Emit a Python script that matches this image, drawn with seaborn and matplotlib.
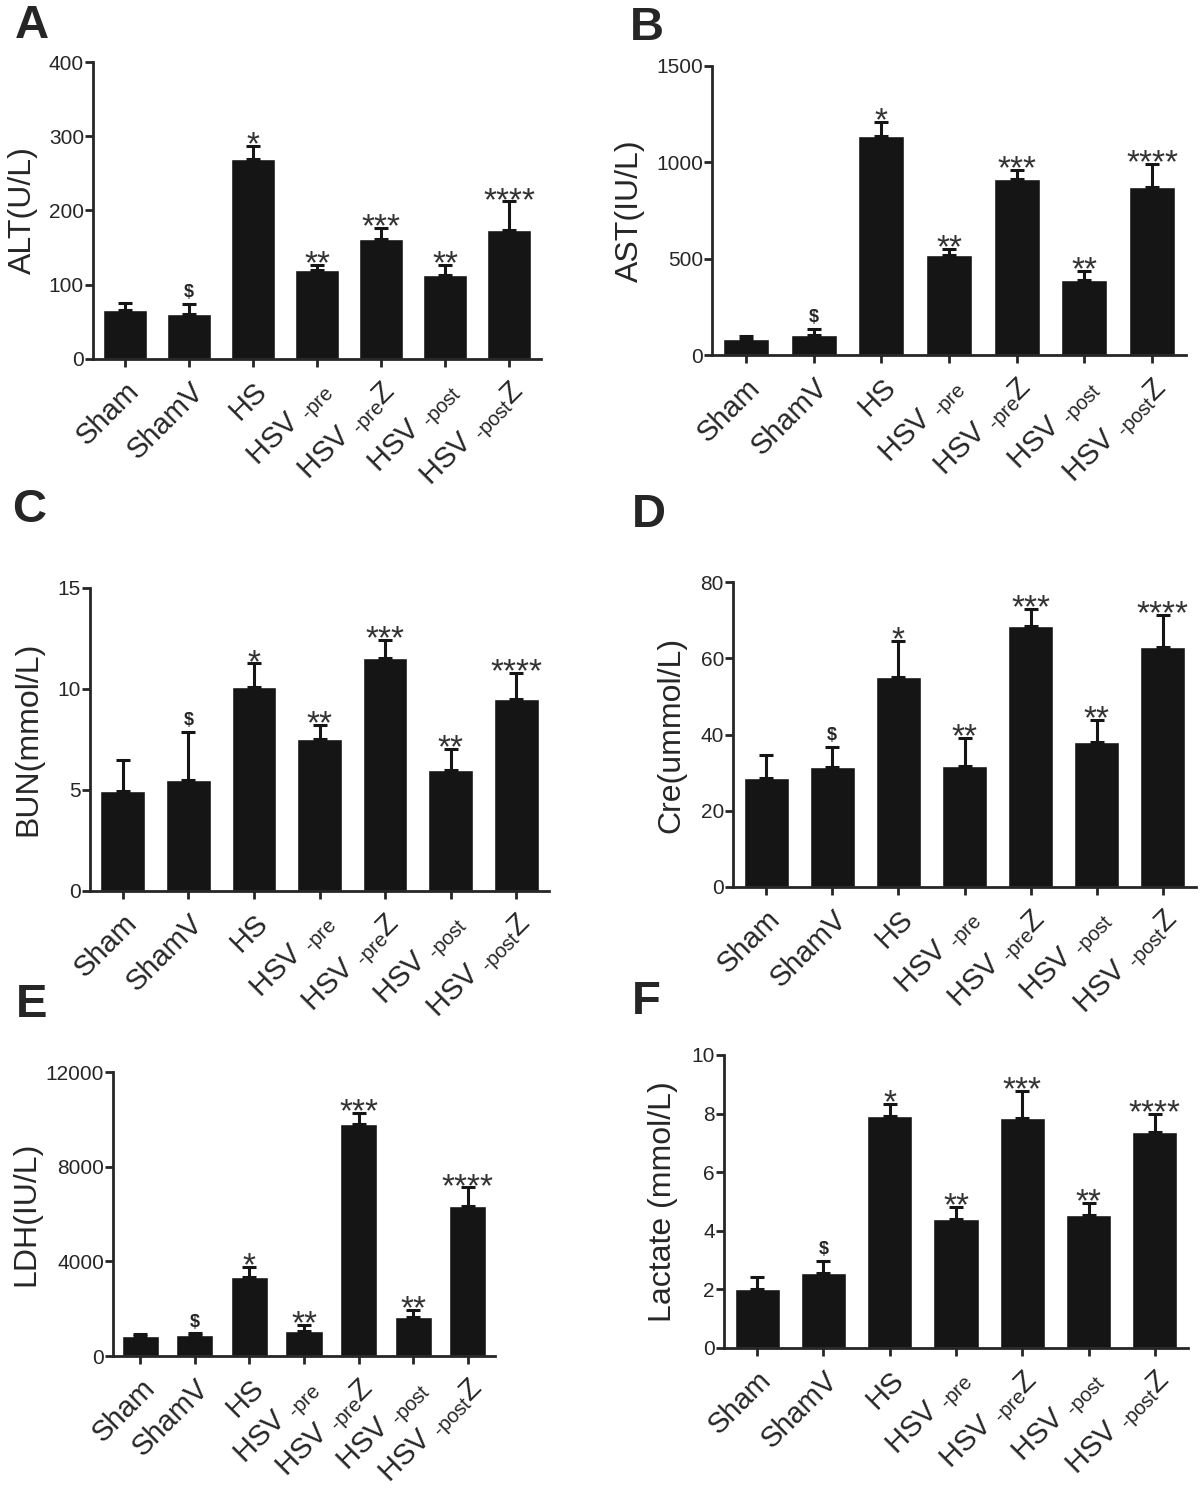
import matplotlib
matplotlib.use("Agg")
import matplotlib.pyplot as plt
import seaborn as sns
import numpy as np

groups = ["Sham", "ShamV", "HS", "HSV-pre", "HSV-preZ", "HSV-post", "HSV-postZ"]
tick_labels = ["Sham", "ShamV", "HS", "HSV $_{\u2010pre}$", "HSV $_{\u2010pre}$Z",
               "HSV $_{\u2010post}$", "HSV $_{\u2010post}$Z"]
marks = ["", "$", "*", "**", "***", "**", "****"]

alt_mean = [66, 60, 269, 119, 162, 113, 174]
alt_sem = [9, 14, 18, 7, 14, 13, 38]
ast_mean = [83, 107, 1137, 519, 915, 390, 870]
ast_sem = [17, 29, 73, 32, 45, 45, 121]
bun_mean = [4.95, 5.5, 10.1, 7.5, 11.5, 6.0, 9.5]
bun_sem = [1.5, 2.35, 1.15, 0.7, 0.9, 1.0, 1.3]
cre_mean = [28.6, 31.5, 55.2, 31.7, 68.5, 37.9, 63.1]
cre_sem = [5.9, 5.3, 9.5, 7.5, 4.5, 6.0, 8.2]
ldh_mean = [850, 890, 3330, 1060, 9800, 1660, 6320]
ldh_sem = [60, 70, 440, 240, 470, 270, 800]
lac_mean = [2.0, 2.56, 7.93, 4.4, 7.84, 4.54, 7.38]
lac_sem = [0.4, 0.41, 0.4, 0.42, 0.93, 0.39, 0.59]

sns.set_style("ticks")
plt.rcParams["font.family"] = ["Liberation Sans", "DejaVu Sans"]
plt.rcParams["mathtext.fontset"] = "custom"
plt.rcParams["mathtext.rm"] = "Liberation Sans"
plt.rcParams["mathtext.default"] = "regular"

W, H = 1200, 1493
fig = plt.figure(figsize=(12, 14.93), dpi=100)

# (letter, ylabel, means, sems, yticks, box px: left, top, right, bottom, letter pos, labelpad)
panels = [
    ("A", "ALT(U/L)", alt_mean, alt_sem, [0, 100, 200, 300, 400], (93, 62, 541, 358.7), (15, 38), 8),
    ("B", "AST(IU/L)", ast_mean, ast_sem, [0, 500, 1000, 1500], (712, 65.7, 1186, 355.3), (630, 40), 8),
    ("C", "BUN(mmol/L)", bun_mean, bun_sem, [0, 5, 10, 15], (90, 587.7, 549, 890.7), (12, 522), 10),
    ("D", "Cre(ummol/L)", cre_mean, cre_sem, [0, 20, 40, 60, 80], (733, 582.3, 1196, 886.7), (632, 527), 10),
    ("E", "LDH(IU/L)", ldh_mean, ldh_sem, [0, 4000, 8000, 12000], (113, 1072, 495, 1356), (16, 1017), 3),
    ("F", "Lactate (mmol/L)", lac_mean, lac_sem, [0, 2, 4, 6, 8, 10], (724, 1055, 1188, 1347.7), (632, 1014), 10),
]

for letter, ylabel, means, sems, yticks, box, lpos, lpad in panels:
    l, t, r, b = box
    ax = fig.add_axes([l / W, 1 - b / H, (r - l) / W, (b - t) / H])
    sns.barplot(x=groups, y=means, ax=ax, color="#151515", saturation=1,
                width=0.68, errorbar=None)
    x = np.arange(len(groups))
    ax.errorbar(x, means, yerr=[np.zeros(len(means)), sems], fmt="none",
                ecolor="#151515", elinewidth=2.2, capsize=4.8, capthick=2.2)
    top = np.array(means) + np.array(sems)
    for xi, yi, m in zip(x, top, marks):
        if m == "$":
            ax.annotate(m, (xi, yi), xytext=(0, 2), textcoords="offset points",
                        ha="center", va="bottom", fontsize=13, fontweight="bold")
        elif m:
            ax.annotate(m, (xi, yi), xytext=(0, -6), textcoords="offset points",
                        ha="center", va="baseline", fontsize=24, color="#333333")
    ax.set_xlim(-0.5, 6.5)
    ax.set_ylim(0, yticks[-1])
    ax.set_yticks(yticks)
    ax.set_yticklabels([str(v) for v in yticks], fontsize=15)
    ax.set_xticks(x)
    ax.set_xticklabels(tick_labels, rotation=45, ha="right", va="top",
                       rotation_mode="anchor", fontsize=21)
    ax.set_xlabel("")
    ax.set_ylabel(ylabel, fontsize=23, labelpad=lpad)
    sns.despine(ax=ax)
    for s in ("left", "bottom"):
        ax.spines[s].set_linewidth(2)
    ax.tick_params(axis="y", length=5.5, width=2, pad=1)
    ax.tick_params(axis="x", length=6, width=2, pad=7)
    fig.text(lpos[0] / W, 1 - lpos[1] / H, letter, fontsize=34,
             fontweight="bold", ha="left", va="baseline")

fig.savefig("out.png", dpi=100)
